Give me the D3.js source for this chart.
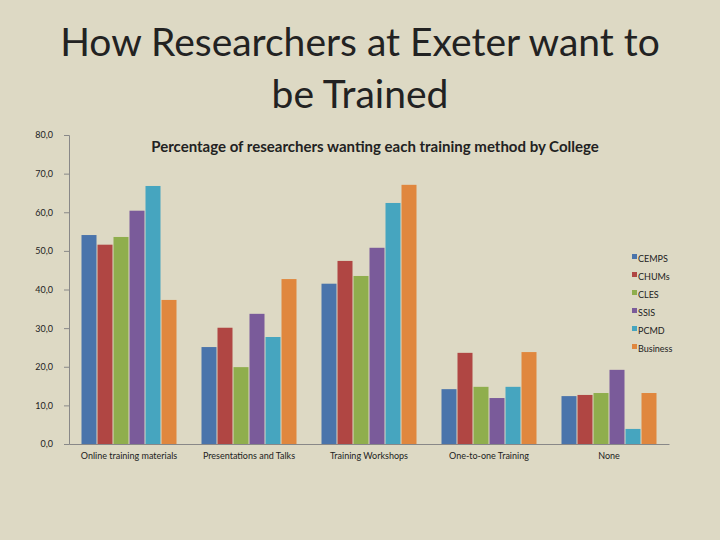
<!DOCTYPE html>
<html lang="en">
<head>
<meta charset="UTF-8">
<title>Training</title>
<script src="https://d3js.org/d3.v7.min.js"></script>
<style>
body{margin:0; background:#ddd9c4;}
text{font-family:Lato, "Open Sans", sans-serif;}
</style>
</head>
<body>
<div class="chart"></div>
<script>
var categories = ["Online training materials", "Presentations and Talks", "Training Workshops", "One-to-one Training", "None"];
var colleges = ["CEMPS", "CHUMs", "CLES", "SSIS", "PCMD", "Business"];
var colours = ["#4a74ab", "#b04643", "#8fae4d", "#7a5b9a", "#46a5bf", "#e0873e"];
// values per college, one per category
var CEMPS = [54.1, 25.1, 41.5, 14.2, 12.4];
var CHUMs = [51.6, 30.1, 47.4, 23.6, 12.7];
var CLES = [53.6, 19.9, 43.5, 14.8, 13.2];
var SSIS = [60.4, 33.7, 50.8, 11.9, 19.2];
var PCMD = [66.8, 27.7, 62.4, 14.8, 3.9];
var Business = [37.3, 42.7, 67.1, 23.8, 13.2];
var yTicks = [0, 10, 20, 30, 40, 50, 60, 70, 80];

var series = [CEMPS, CHUMs, CLES, SSIS, PCMD, Business];
var w = 720, h = 540;
var svg = d3.select(".chart").append("svg").attr("width", w).attr("height", h);

svg.append("text").attr("x", 360).attr("y", 56).attr("text-anchor", "middle")
	.attr("font-size", "39px").attr("fill", "#222").text("How Researchers at Exeter want to");
svg.append("text").attr("x", 360).attr("y", 108).attr("text-anchor", "middle")
	.attr("font-size", "39px").attr("fill", "#222").text("be Trained");
svg.append("text").attr("x", 375).attr("y", 152).attr("text-anchor", "middle")
	.attr("font-size", "15px").attr("font-weight", "bold").attr("fill", "#222")
	.text("Percentage of researchers wanting each training method by College");

var y = d3.scaleLinear().domain([0, 80]).range([444, 135]);
var x0 = d3.scaleBand().domain(categories).range([69, 669]).paddingInner(0.2).paddingOuter(0.1);
var x1 = d3.scaleBand().domain(colleges).range([0, x0.bandwidth()]);

var yAxis = svg.append("g").attr("transform", "translate(69,0)")
	.call(d3.axisLeft(y).tickValues(yTicks).tickSize(5).tickFormat(function(d){ return d.toFixed(1).replace(".", ","); }));
yAxis.selectAll("text").attr("font-size", "9px").attr("fill", "#222").attr("dx", "-8");
yAxis.selectAll("line,path").attr("stroke", "#888");

var xAxis = svg.append("g").attr("transform", "translate(0,444)")
	.call(d3.axisBottom(x0).tickSize(0).tickPadding(9));
xAxis.select("path").attr("stroke", "#888");
xAxis.selectAll("text").attr("font-size", "9px").attr("fill", "#222");

var groups = svg.selectAll("g.grp").data(categories).enter().append("g")
	.attr("transform", function(d){ return "translate(" + x0(d) + ",0)"; });
groups.selectAll("rect").data(function(d, i){
		return colleges.map(function(c, j){ return {c: c, v: series[j][i], k: j}; });
	}).enter().append("rect")
	.attr("x", function(d){ return x1(d.c) + 0.5; })
	.attr("width", x1.bandwidth() - 1)
	.attr("y", function(d){ return y(d.v); })
	.attr("height", function(d){ return 444 - y(d.v); })
	.attr("fill", function(d){ return colours[d.k]; });

var leg = svg.selectAll("g.leg").data(colleges).enter().append("g")
	.attr("transform", function(d, i){ return "translate(632," + (258 + i * 18) + ")"; });
leg.append("rect").attr("x", 0).attr("y", -4).attr("width", 5).attr("height", 5)
	.attr("fill", function(d, i){ return colours[i]; });
leg.append("text").attr("x", 6).attr("y", 4).attr("font-size", "9px").attr("fill", "#222")
	.text(function(d){ return d; });
</script>
</body>
</html>
